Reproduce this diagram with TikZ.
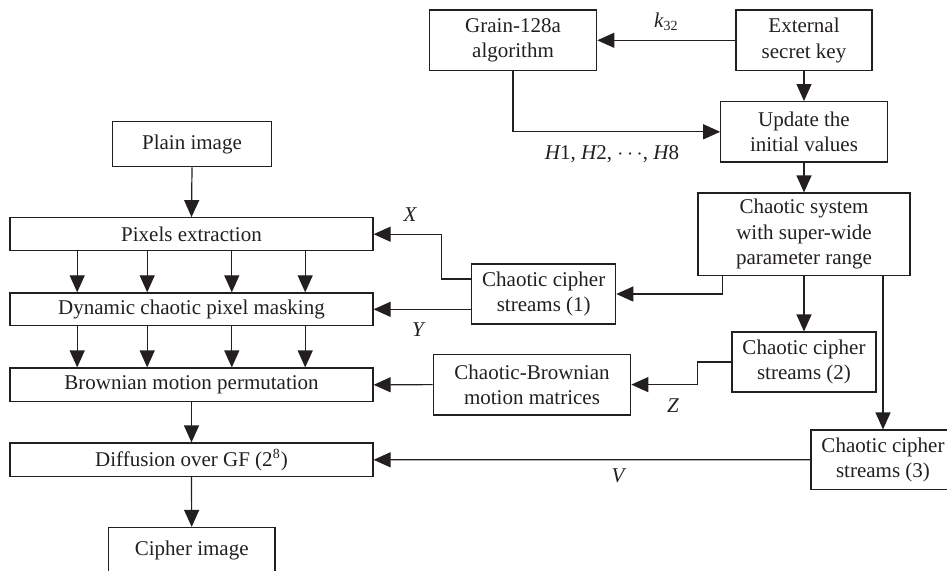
\documentclass[tikz,border=0pt]{standalone}
\usepackage{fontspec}
\setmainfont{Liberation Serif}
\usetikzlibrary{arrows.meta}
\definecolor{ink}{HTML}{231F20}
\tikzset{
  blk/.style={draw=ink, line width=0.6pt, align=center, inner sep=0pt, text=ink,
    font=\fontsize{10.5}{12.7}\selectfont},
  lbl/.style={text=ink, font=\fontsize{10.5}{12.7}\selectfont\itshape},
  link/.style={draw=ink, line width=0.6pt}
}
\begin{document}
\begin{tikzpicture}[x=0.5pt, y=-0.5pt, >={Triangle[length=8.5pt,width=7.5pt]}]
  \useasboundingbox (0,0) rectangle (947,570);
  % key side
  \node[blk, minimum width=83.7pt, minimum height=30.3pt] (grain) at (513,40.3) {Grain-128a\\algorithm};
  \node[blk, minimum width=68pt, minimum height=30.3pt] (ext) at (804,40.3) {External\\secret key};
  \node[blk, minimum width=83.2pt, minimum height=30.2pt] (upd) at (804,131.8) {Update the\\initial values};
  \node[blk, minimum width=106pt, minimum height=41.3pt] (sys) at (804,234.3) {Chaotic system\\with super-wide\\parameter range};
  \node[blk, minimum width=72pt, minimum height=30pt] (s1) at (543.7,294) {Chaotic cipher\\streams (1)};
  \node[blk, minimum width=72pt, minimum height=30pt] (s2) at (804,362) {Chaotic cipher\\streams (2)};
  \node[blk, minimum width=72pt, minimum height=29.7pt] (s3) at (883,459.7) {Chaotic cipher\\streams (3)};
  \node[blk, minimum width=98.7pt, minimum height=30.3pt] (mat) at (532,384.6) {Chaotic-Brownian\\motion matrices};
  % image side
  \node[blk, minimum width=79.7pt, minimum height=22.5pt] (plain) at (192,144.2) {Plain image};
  \node[blk, minimum width=181.5pt, minimum height=16.5pt] (pix) at (191.5,234.2) {Pixels extraction};
  \node[blk, minimum width=181.5pt, minimum height=16.4pt] (dyn) at (191.5,309.3) {Dynamic chaotic pixel masking};
  \node[blk, minimum width=181.5pt, minimum height=16.8pt] (brown) at (191.5,384.8) {Brownian motion permutation};
  \node[blk, minimum width=181.5pt, minimum height=16.8pt] (diff) at (191.5,459.8) {Diffusion over GF (2\textsuperscript{\scriptsize 8})};
  \node[blk, minimum width=83.3pt, minimum height=22.5pt] (ciph) at (191.7,550) {Cipher image};
  % connectors
  \draw[link,->] (ext.west) -- (grain.east) node[lbl, pos=0.5, above=1pt] {k\textsubscript{\upshape\scriptsize 32}};
  \draw[link,->] (ext.south) -- (upd.north);
  \draw[link,->] (grain.south) |- (upd.west);
  \node[lbl] (hlab) at (612,154) {H\upshape 1, \itshape H\upshape 2, $\cdots$, \itshape H\upshape 8};
  \draw[link,->] (upd.south) -- (sys.north);
  \draw[link,->] ([xshift=12.5pt]sys.south west) |- (s1.east);
  \draw[link,->] (sys.south) -- (s2.north);
  \draw[link,->] (sys.south -| s3.north) -- (s3.north);
  \draw[link,->] ([yshift=7.5pt]s1.west) -- ++(-30,0) |- (pix.east);
  \node[lbl] (xlab) at (410,215) {X};
  \draw[link,->] (dyn.east -| s1.west) -- (dyn.east);
  \node[lbl] (ylab) at (418,330) {Y};
  \draw[link,->] (s2.west) -- ++(-34,0) |- (mat.east);
  \node[lbl] (zlab) at (673,406) {Z};
  \draw[link,->] (mat.west) -- (brown.east);
  \draw[link,->] (s3.west) -- (diff.east);
  \node[lbl] (vlab) at (618,476) {V};
  \draw[link,->] (plain.south) -- (pix.north);
  \foreach \dx in {33.9,68.9,111.2,147.9} {
    \draw[link,->] ([xshift=\dx pt]pix.south west) -- ([xshift=\dx pt]dyn.north west);
    \draw[link,->] ([xshift=\dx pt]dyn.south west) -- ([xshift=\dx pt]brown.north west);
  }
  \draw[link,->] (brown.south) -- (diff.north);
  \draw[link,->] (diff.south) -- (ciph.north);
\end{tikzpicture}
\end{document}
